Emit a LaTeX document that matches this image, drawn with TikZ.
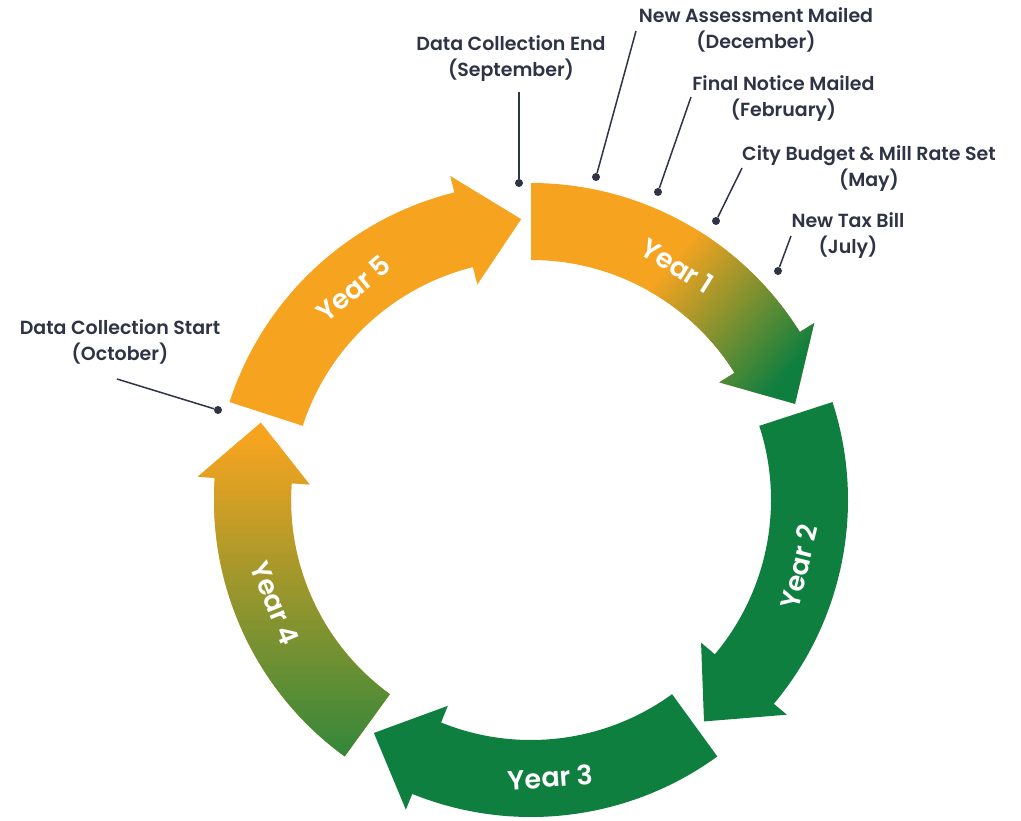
\documentclass[tikz,border=0pt]{standalone}
\usepackage{fontspec}
\newfontfamily\popm{Poppins SemiBold}
\newfontfamily\pops{Poppins SemiBold}
\definecolor{cOr}{HTML}{F6A420}
\definecolor{cGr}{HTML}{0F7F3F}
\definecolor{cGrL}{HTML}{1E843D}
\definecolor{cTxt}{HTML}{2E3446}
\newcommand\yarrow[1]{(#1:317) arc[start angle=#1, end angle=#1-58, radius=317] -- ({#1-58}:334) -- ({#1-70}:281) -- ({#1-58}:222) -- ({#1-58}:240) arc[start angle=#1-58, end angle=#1, radius=240] -- cycle}
\begin{document}
\begin{tikzpicture}[x=1pt,y=1pt,
  lbl/.style={font=\popm\fontsize{19}{26}\selectfont, text=cTxt, align=center, inner sep=0pt},
  yr/.style={font=\pops\fontsize{27}{27}\selectfont, text=white, inner sep=0pt},
  dot/.style={circle, fill=cTxt, inner sep=0pt, minimum size=8pt},
  lead/.style={draw=cTxt, line width=1.5pt}]
\useasboundingbox (0,0) rectangle (1021,-821);
\begin{scope}[shift={(531,-500)}]
  % Year 5
  \fill[cOr] \yarrow{162};
  % Year 2, Year 3
  \fill[cGr] \yarrow{18};
  \fill[cGr] \yarrow{-54};
  % Year 1 (orange -> green)
  \fill[cOr] \yarrow{90};
  \begin{scope}
    \clip \yarrow{90};
    \begin{scope}[shift={(209,195)},rotate=-40]
      \fill[cGr] (80,-400) rectangle (500,400);
      \foreach \i in {0,...,59}{\pgfmathsetmacro\p{(\i+0.5)*100/60}
        \fill[cGr!\p!cOr] ({-80+160/60*\i},-400) rectangle ({-80+160/60*\i+3},400);}
    \end{scope}
  \end{scope}
  % Year 4 (green bottom -> orange top)
  \fill[cOr] \yarrow{-126};
  \begin{scope}
    \clip \yarrow{-126};
    \fill[cGrL] (-400,-290) rectangle (0,-400);
    \foreach \i in {0,...,69}{\pgfmathsetmacro\p{(\i+0.5)*100/70}
      \fill[cGrL!\p!cOr] (-400,{60-5*\i}) rectangle (0,{60-5*\i-5.4});}
  \end{scope}
  % Year labels
  \node[yr, rotate=-32] (y1) at (58:276) {Year 1};
  \node[yr, rotate=76] (y2) at (-14:276) {Year 2};
  \node[yr, rotate=4] (y3) at (-86:278) {Year 3};
  \node[yr, rotate=-68] (y4) at (-158:276) {Year 4};
  \node[yr, rotate=40] (y5) at (130:276) {Year 5};
\end{scope}
% milestone labels
\node[lbl] (lDCE) at (511,-59) {Data Collection End\\(September)};
\node[lbl] (lNAM) at (756,-30) {New Assessment Mailed\\(December)};
\node[lbl] (lFNM) at (783.5,-98.5) {Final Notice Mailed\\(February)};
\node[lbl] (lCB) at (869,-168.5) {City Budget \& Mill Rate Set\\(May)};
\node[lbl] (lNTB) at (848,-236) {New Tax Bill\\(July)};
\node[lbl] (lDCS) at (120,-341.5) {Data Collection Start\\(October)};
% dots
\node[dot] (dDCE) at (519,-183) {};
\node[dot] (dNAM) at (596,-177) {};
\node[dot] (dFNM) at (658,-192) {};
\node[dot] (dCB) at (716,-221) {};
\node[dot] (dNTB) at (778,-271) {};
\node[dot] (dDCS) at (218,-410) {};
% leader ends
\coordinate (tDCE) at (519,-92);
\coordinate (tNAM) at (636,-31);
\coordinate (tFNM) at (691,-97);
\coordinate (tCB) at (742,-168);
\coordinate (tNTB) at (791,-236);
\coordinate (tDCS) at (117,-379);
\draw[lead] (tDCE) -- (dDCE);
\draw[lead] (tNAM) -- (dNAM);
\draw[lead] (tFNM) -- (dFNM);
\draw[lead] (tCB) -- (dCB);
\draw[lead] (tNTB) -- (dNTB);
\draw[lead] (tDCS) -- (dDCS);
\end{tikzpicture}
\end{document}
